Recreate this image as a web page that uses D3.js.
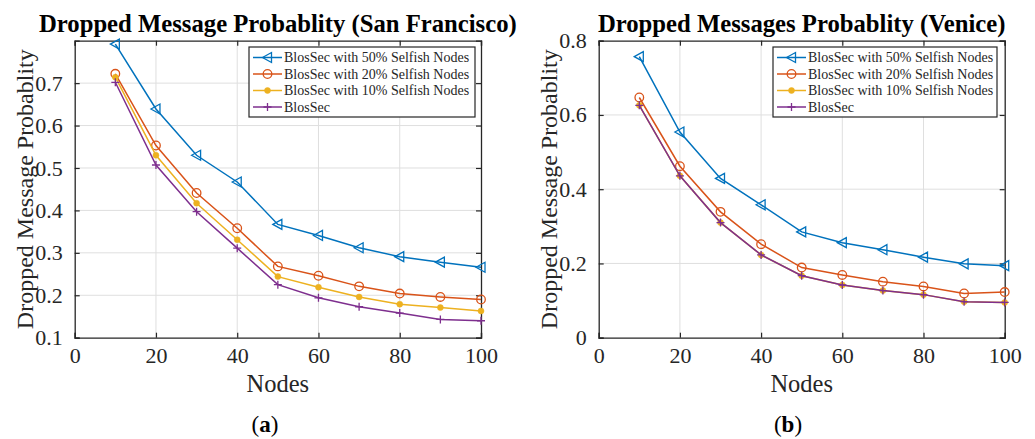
<!DOCTYPE html>
<html>
<head>
<meta charset="utf-8">
<script src="https://cdn.jsdelivr.net/npm/d3@7"></script>
<style>
  html, body { margin: 0; padding: 0; background: #fff; }
  svg { display: block; }
</style>
</head>
<body>
<svg id="fig" width="1035" height="439"></svg>
<script>
// Node counts on the x axis
const nodes = [10, 20, 30, 40, 50, 60, 70, 80, 90, 100];

// San Francisco scenario
const sf50 = [0.792, 0.639, 0.530, 0.467, 0.367, 0.341, 0.312, 0.291, 0.278, 0.266];
const sf20 = [0.722, 0.553, 0.441, 0.358, 0.268, 0.246, 0.221, 0.204, 0.196, 0.190];
const sf10 = [0.714, 0.530, 0.417, 0.331, 0.244, 0.219, 0.196, 0.179, 0.171, 0.163];
const sf00 = [0.702, 0.507, 0.397, 0.311, 0.225, 0.194, 0.173, 0.158, 0.143, 0.140];

// Venice scenario
const ve50 = [0.757, 0.554, 0.429, 0.358, 0.285, 0.256, 0.237, 0.217, 0.199, 0.194];
const ve20 = [0.647, 0.462, 0.339, 0.252, 0.189, 0.169, 0.151, 0.138, 0.119, 0.123];
const ve10 = [0.626, 0.436, 0.310, 0.223, 0.167, 0.142, 0.127, 0.116, 0.097, 0.095];
const ve00 = [0.626, 0.436, 0.310, 0.223, 0.167, 0.142, 0.127, 0.116, 0.097, 0.095];

const seriesNames = [
  "BlosSec with 50% Selfish Nodes",
  "BlosSec with 20% Selfish Nodes",
  "BlosSec with 10% Selfish Nodes",
  "BlosSec"
];
const seriesColors = ["#0072BD", "#D95319", "#EDB120", "#7E2F8E"];
const seriesMarkers = ["triangleLeft", "circle", "dot", "plus"];

const xTicks = [0, 20, 40, 60, 80, 100];
const sfYTicks = [0.1, 0.2, 0.3, 0.4, 0.5, 0.6, 0.7];
const veYTicks = [0, 0.2, 0.4, 0.6, 0.8];

const svg = d3.select("#fig");
const AX = "#262626";
const GRID = "#dfdfdf";
const SERIF = "'Liberation Serif', 'Times New Roman', serif";

function drawMarker(g, kind, color, cx, cy) {
  if (kind === "triangleLeft") {
    const p = [[cx - 5, cy], [cx + 4, cy - 5], [cx + 4, cy + 5]];
    g.append("path").attr("d", "M" + p.join("L") + "Z")
      .attr("fill", "none").attr("stroke", color).attr("stroke-width", 1.3);
  } else if (kind === "circle") {
    g.append("circle").attr("cx", cx).attr("cy", cy).attr("r", 4.3)
      .attr("fill", "none").attr("stroke", color).attr("stroke-width", 1.3);
  } else if (kind === "dot") {
    g.append("circle").attr("cx", cx).attr("cy", cy).attr("r", 3)
      .attr("fill", color).attr("stroke", color).attr("stroke-width", 0.5);
  } else if (kind === "plus") {
    g.append("path").attr("d", `M${cx - 4},${cy}H${cx + 4}M${cx},${cy - 4}V${cy + 4}`)
      .attr("stroke", color).attr("stroke-width", 1.3);
  }
}

function panel(opts) {
  const { left, right, top, bottom, yDomain, yTicks, yFmt, title, series, legend, caption, yLabelX } = opts;
  const x = d3.scaleLinear().domain([0, 100]).range([left, right]);
  const y = d3.scaleLinear().domain(yDomain).range([bottom, top]);
  const g = svg.append("g");

  // grid
  g.append("g").selectAll("line").data(xTicks.slice(1, -1)).join("line")
    .attr("x1", d => x(d)).attr("x2", d => x(d)).attr("y1", top).attr("y2", bottom)
    .attr("stroke", GRID).attr("stroke-width", 1);
  g.append("g").selectAll("line").data(yTicks.filter(d => d > yDomain[0] && d < yDomain[1])).join("line")
    .attr("x1", left).attr("x2", right).attr("y1", d => y(d)).attr("y2", d => y(d))
    .attr("stroke", GRID).attr("stroke-width", 1);

  // axes: inward ticks on all four sides
  const axBottom = d3.axisBottom(x).tickValues(xTicks).tickSize(-5).tickPadding(10).tickFormat(d3.format("d"));
  const axTop = d3.axisTop(x).tickValues(xTicks).tickSize(-5).tickFormat("");
  const axLeft = d3.axisLeft(y).tickValues(yTicks).tickSize(-5).tickPadding(12).tickFormat(yFmt);
  const axRight = d3.axisRight(y).tickValues(yTicks).tickSize(-5).tickFormat("");

  const styleAxis = sel => {
    sel.selectAll(".domain").attr("stroke", AX).attr("stroke-width", 1.3);
    sel.selectAll(".tick line").attr("stroke", AX).attr("stroke-width", 1.2);
    sel.selectAll("text").attr("fill", AX).attr("font-family", SERIF).attr("font-size", 22);
  };
  g.append("g").attr("transform", `translate(0,${bottom})`).call(axBottom).call(styleAxis);
  g.append("g").attr("transform", `translate(0,${top})`).call(axTop).call(styleAxis);
  g.append("g").attr("transform", `translate(${left},0)`).call(axLeft).call(styleAxis);
  g.append("g").attr("transform", `translate(${right},0)`).call(axRight).call(styleAxis);
  g.selectAll(".tick text").attr("dy", null);
  g.selectAll("g.tick text").each(function () {
    const t = d3.select(this);
    if (t.attr("y") && +t.attr("y") > 0) t.attr("dy", "0.71em");
    else t.attr("dy", "0.32em");
  });

  // series
  const line = d3.line().x(d => x(d[0])).y(d => y(d[1]));
  series.forEach((vals, i) => {
    const pts = nodes.map((n, j) => [n, vals[j]]);
    g.append("path").datum(pts).attr("d", line)
      .attr("fill", "none").attr("stroke", seriesColors[i]).attr("stroke-width", 1.5);
    const mg = g.append("g");
    pts.forEach(p => drawMarker(mg, seriesMarkers[i], seriesColors[i], x(p[0]), y(p[1])));
  });

  // title
  g.append("text").attr("x", (left + right) / 2).attr("y", 32)
    .attr("text-anchor", "middle").attr("font-family", SERIF).attr("font-weight", "bold")
    .attr("font-size", 24.7).attr("fill", "#000").text(title);

  // axis labels
  g.append("text").attr("x", (left + right) / 2).attr("y", 392)
    .attr("text-anchor", "middle").attr("font-family", SERIF).attr("font-size", 24.5)
    .attr("fill", AX).text("Nodes");
  g.append("text")
    .attr("transform", `translate(${yLabelX},${(top + bottom) / 2}) rotate(-90)`)
    .attr("text-anchor", "middle").attr("font-family", SERIF).attr("font-size", 24)
    .attr("fill", AX).text("Dropped Message Probablity");

  // legend
  const lg = g.append("g");
  lg.append("rect").attr("x", legend.x).attr("y", legend.y).attr("width", legend.w).attr("height", legend.h)
    .attr("fill", "#fff").attr("stroke", AX).attr("stroke-width", 1.2);
  seriesNames.forEach((name, i) => {
    const cy = legend.y + 10.5 + i * 16.5;
    lg.append("line").attr("x1", legend.x + 4).attr("x2", legend.x + 33).attr("y1", cy).attr("y2", cy)
      .attr("stroke", seriesColors[i]).attr("stroke-width", 1.5);
    drawMarker(lg, seriesMarkers[i], seriesColors[i], legend.x + 18.5, cy);
    lg.append("text").attr("x", legend.x + 35).attr("y", cy + 4.8)
      .attr("font-family", SERIF).attr("font-size", 14).attr("fill", AX).text(name);
  });

  // sub-figure caption
  const cap = g.append("text").attr("x", caption.x).attr("y", 432)
    .attr("text-anchor", "middle").attr("font-family", SERIF).attr("font-size", 23).attr("fill", "#000");
  cap.append("tspan").text("(");
  cap.append("tspan").attr("font-weight", "bold").text(caption.letter);
  cap.append("tspan").text(")");
}

panel({
  left: 74.7, right: 481, top: 40.7, bottom: 337.7,
  yDomain: [0.1, 0.8], yTicks: sfYTicks, yFmt: d3.format(".1f"),
  title: "Dropped Message Probablity (San Francisco)",
  series: [sf50, sf20, sf10, sf00],
  legend: { x: 249, y: 47, w: 226, h: 70 },
  caption: { x: 265, letter: "a" },
  yLabelX: 33
});

panel({
  left: 598.7, right: 1004.7, top: 40.7, bottom: 337.7,
  yDomain: [0, 0.8], yTicks: veYTicks, yFmt: d => d === 0 ? "0" : d3.format(".1f")(d),
  title: "Dropped Messages Probablity (Venice)",
  series: [ve50, ve20, ve10, ve00],
  legend: { x: 773, y: 47, w: 224, h: 70 },
  caption: { x: 788, letter: "b" },
  yLabelX: 557
});
</script>
</body>
</html>
